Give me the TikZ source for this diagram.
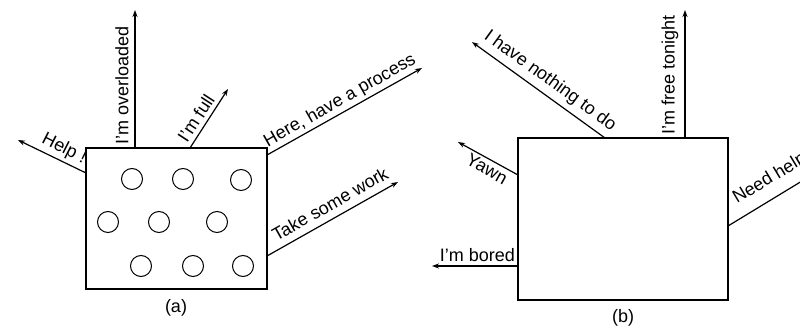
\documentclass[tikz,border=0pt]{standalone}
\usepackage{fontspec}
\setmainfont{Liberation Sans}
\usetikzlibrary{arrows.meta}
\begin{document}
\begin{tikzpicture}[x=1pt,y=-1pt,
  box/.style={draw, line width=1.2pt, inner sep=0pt},
  proc/.style={draw, circle, line width=1pt, minimum size=21pt, inner sep=0pt},
  msg/.style={line width=1.2pt, -{Stealth[length=7pt,width=5pt]}},
  lbl/.style={font=\fontsize{18}{21}\selectfont, inner sep=0pt},
]
\clip (0,0) rectangle (800,328);
% ---------- (a) ----------
\node[box, minimum width=181pt, minimum height=141pt] (A) at (176.5,218.5) {};
\node[proc] (p1) at (132,179) {};
\node[proc] (p2) at (183,179) {};
\node[proc] (p3) at (241,180) {};
\node[proc] (p4) at (108,222) {};
\node[proc] (p5) at (159,222) {};
\node[proc] (p6) at (217,222) {};
\node[proc] (p7) at (141,266) {};
\node[proc] (p8) at (193,266) {};
\node[proc] (p9) at (243,266) {};

\coordinate (a1s) at (86,173);  \coordinate (a1e) at (18,140);
\coordinate (a2s) at (135,148); \coordinate (a2e) at (135,10);
\coordinate (a3s) at (190,148); \coordinate (a3e) at (228,89);
\coordinate (a4s) at (267,155); \coordinate (a4e) at (422,68);
\coordinate (a5s) at (267,256); \coordinate (a5e) at (398,182);
\draw[msg] (a1s) -- (a1e);
\draw[msg] (a2s) -- (a2e);
\draw[msg] (a3s) -- (a3e);
\draw[msg] (a4s) -- (a4e);
\draw[msg] (a5s) -- (a5e);
\node[lbl, rotate=-27] (l1) at (64,149) {Help !};
\node[lbl, rotate=90] (l2) at (122,85) {I'm overloaded};
\node[lbl, rotate=57] (l3) at (196,118) {I'm full};
\node[lbl, rotate=29.6] (l4) at (340,101) {Here, have a process};
\node[lbl, rotate=29.5] (l5) at (330,204) {Take some work};
\node[lbl] (ca) at (176,308) {(a)};

% ---------- (b) ----------
\node[box, minimum width=210pt, minimum height=162pt] (B) at (623,219) {};
\coordinate (b1s) at (605,138); \coordinate (b1e) at (472,42);
\coordinate (b2s) at (685,138); \coordinate (b2e) at (685,10);
\coordinate (b3s) at (518,175); \coordinate (b3e) at (458,142);
\coordinate (b4s) at (518,266); \coordinate (b4e) at (432,266);
\coordinate (b5s) at (728,226); \coordinate (b5e) at (830,164);
\draw[msg] (b1s) -- (b1e);
\draw[msg] (b2s) -- (b2e);
\draw[msg] (b3s) -- (b3e);
\draw[msg] (b4s) -- (b4e);
\draw[msg] (b5s) -- (b5e);
\node[lbl, rotate=-36] (m1) at (550,81) {I have nothing to do};
\node[lbl, rotate=90] (m2) at (670,75) {I'm free tonight};
\node[lbl, rotate=-29] (m3) at (487,169) {Yawn};
\node[lbl, anchor=east] (m4) at (515,255) {I'm bored};
\node[lbl, rotate=31, anchor=base west] (m5) at (737,204) {Need help};
\node[lbl] (cb) at (623,318) {(b)};
\end{tikzpicture}
\end{document}
